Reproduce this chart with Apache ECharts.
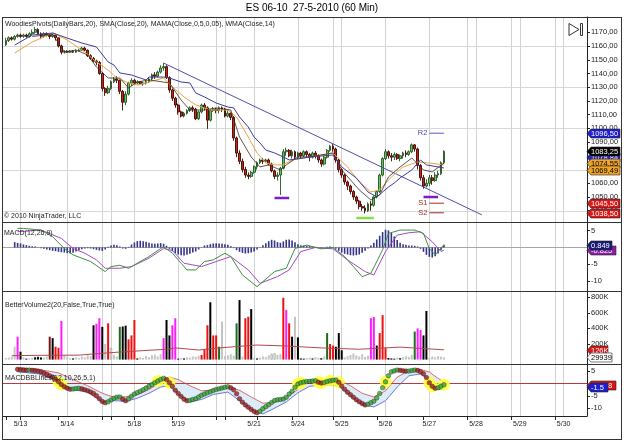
<!DOCTYPE html>
<html><head><meta charset="utf-8">
<script src="https://cdn.jsdelivr.net/npm/echarts@6.0.0/dist/echarts.min.js"></script>
<style>html,body{margin:0;padding:0;background:#fff}#c{width:625px;height:442px}</style>
</head><body><div id="c"></div>
<script>
const FONT = '"Liberation Sans", Arial, sans-serif';

// ---------- time axis (hourly bar slots) ----------
const SLOT_COUNT = 201;
const FIRST_BAR = 1;
const dateLabelSlots = [6, 22, 45, 60, 86, 101, 116, 131, 146, 162, 177, 192];
const dateLabels = ['5/13','5/14','5/18','5/19','5/21','5/24','5/25','5/26','5/27','5/28','5/29','5/30'];
const dateTickSlots = [1, 6, 19, 34, 37, 45, 58, 73, 76, 87, 99, 113, 128, 144, 159, 174, 189];
const extraGridSlots = [34, 37, 73, 76, 113, 159, 174, 189];

// ---------- price panel ----------
const firstOpen = 1161;
const closes = [1164,1166,1165,1167,1168,1167,1168,1167,1169,1170,
 1172,1169,1167,1169,1168,1167,1168,1166,1160,1155.5,
 1156,1155.5,1156,1155.5,1156.5,1157,1158.5,1157,1153,1151,
 1149,1148,1140,1129,1126,1129,1134,1136,1135,1127,
 1119,1125,1133,1135,1133,1134,1132.5,1133,1134,1136,
 1139,1138,1141,1144,1145,1137,1128,1122,1117,1112,
 1109,1111,1113,1115,1114,1107,1112,1117,1115,1106,
 1113,1114,1113,1115,1114,1109,1111,1108,1093,1082,
 1076,1070,1066,1065,1068,1072,1075,1077,1076,1077,
 1074,1069,1065,1066,1071,1083,1084,1080,1083,1079,
 1082,1080,1083,1081,1079,1082,1080,1077,1074,1079,
 1084,1087,1085,1077,1070,1066,1061,1058,1054,1050,
 1047,1043,1042,1040,1045,1044,1050,1054,1066,1078,
 1083,1080,1079,1081,1078,1080,1082,1081,1083,1088,
 1085,1073,1064,1058,1060,1064,1062,1066,1067,1075,
 1083.25];
const highs = [1166,1167,1167,1168,1169,1169,1169,1169,1170,1172,
 1174,1173,1170,1170,1170,1169,1169,1169,1166,1161,
 1157,1157,1157,1157,1157.5,1158,1159.5,1159.5,1157.5,1154,
 1152,1150,1149,1141,1130,1131,1135,1137.5,1138,1136,
 1128,1127,1134,1136.5,1136,1135,1134.5,1134,1135,1137,
 1140,1141,1142,1146,1147.6,1146,1138,1129,1123,1118,
 1113,1112,1114,1116,1116.5,1115,1113,1118,1118.5,1116,
 1114,1115.5,1115,1116,1116,1115,1113,1112,1109,1094,
 1084,1078,1072,1068,1069,1073,1076,1078,1078.5,1078,
 1078,1075,1070,1068,1072,1085,1086,1085,1084.5,1084,
 1083,1083,1084,1084,1082,1083,1083.5,1081,1078,1080,
 1085,1088,1088.5,1086,1078,1071,1067,1062,1059,1055,
 1051,1048,1045,1044,1046,1047,1051,1055,1067,1079,
 1085,1084,1082,1082.5,1082,1081,1083,1084,1084,1089,
 1088.5,1086,1074,1066,1063,1066,1066,1068,1069,1076,
 1084];
const lows = [1160,1163,1164,1164,1166,1166,1166,1166,1166,1168,
 1169,1168,1165,1166,1167,1165,1166,1164,1159,1154,
 1154.5,1155,1155,1155,1155,1156,1156.5,1156,1152,1150,
 1148,1146,1139,1127,1123.7,1125,1128,1133,1133,1125,
 1113,1117,1124,1131,1132,1132,1131.5,1131,1132,1133,
 1135,1136,1137,1140,1142,1136,1126,1120,1115,1110,
 1108,1108,1110,1112,1112,1106,1106,1111,1113,1099.6,
 1105,1112,1111,1111,1112,1108,1108,1106,1091,1079,
 1074,1068,1064,1063,1064,1067,1070,1074,1074,1075,
 1073,1068,1063,1062,1051.5,1070,1080,1079,1078,1077,
 1077.5,1078,1079,1079,1076,1078,1078,1075,1072,1073,
 1078,1083,1083,1075,1068,1064,1059,1055,1052,1048,
 1045,1041,1040,1038,1039,1040,1043,1049,1053,1065,
 1077,1078,1076,1077,1077,1076,1078,1079,1080,1082,
 1083,1070,1062,1056,1057,1058,1059,1061,1064,1066,
 1074];
const mamaLine = [[4,1160.7],[10,1168],[17,1169.5],[22,1165.8],[27,1162.2],[32,1159.3],[36,1148.4],[38,1146.2],[40,1140.4],[44,1138.9],[47,1136.7],[49,1135.3],[50,1137.4],[55,1137.4],[57,1136.7],[61,1133.8],[64,1133.1],[66,1125.8],[69,1122.9],[73,1118.5],[77,1115.6],[79,1114.9],[81,1108.3],[84,1101],[86,1093.7],[88,1089.4],[90,1084.2],[93,1082.1],[96,1079.2],[98,1077],[103,1078.4],[105,1079.2],[113,1080.6],[116,1071.9],[121,1063.9],[125,1053.7],[128,1050],[132,1057.3],[134,1060.2],[136,1063.9],[140,1069.7],[143,1077],[145,1073.4],[149,1071.9],[151,1071.2]];
const smaLine = [[4,1154.9],[10,1162.9],[17,1169.5],[22,1164.4],[28,1155.7],[32,1148.4],[36,1142.5],[39,1136.7],[43,1133.1],[46,1131.6],[49,1133.1],[50,1133.8],[55,1136.7],[58,1130.2],[62,1122.9],[66,1117.1],[71,1113.4],[77,1113.4],[80,1108.3],[84,1093.7],[87,1082.1],[90,1074.8],[93,1073.4],[96,1073.4],[99,1077],[105,1079.2],[113,1082.1],[118,1071.9],[122,1061],[126,1053.7],[129,1055.2],[133,1064.6],[137,1071.9],[142,1075.5],[146,1074.8],[151,1073.4]];
const wmaLine = [[10,1167],[17,1168.5],[21,1155.7],[25,1157.1],[29,1153.5],[32,1144.7],[36,1136.7],[40,1136.7],[43,1129.4],[46,1133.8],[50,1135.3],[57,1133.1],[61,1120.7],[64,1113.4],[69,1113.4],[73,1114.9],[78,1113.4],[81,1093.7],[85,1079.2],[88,1071.9],[91,1073.4],[95,1069.7],[97,1073.4],[101,1079.2],[105,1079.2],[113,1082.1],[116,1069.7],[122,1055.2],[126,1047.8],[129,1051.5],[132,1064.6],[136,1071.9],[140,1078.4],[144,1069.7],[147,1068.3],[151,1074.8]];
const trendLine = [[55,1147.6],[164,1037.0]];
const pivotNames = ['R2','S1','S2'];
const pivotValues = [1096.5, 1045.5, 1038.5];
const pivotSpan = [146, 151];
const swingLowBars = [[93,98,1049.3],[144,149,1050.0]];
const swingHighBars = [[121,127,1034.8]];
const priceTicks = [1040,1050,1060,1070,1080,1090,1100,1110,1120,1130,1140,1150,1160,1170];
const priceGridLevels = [1040,1070,1100,1130,1160];
const priceTagValues = [1078.84, 1074.55, 1069.49, 1083.25, 1096.5, 1045.5, 1038.5];

// ---------- MACD panel ----------
const HIST_FIRST = 4;
const macdHist = [1.6,1.4,1.2,0.9,0.7,0.5,0.4,0.3,0.1,-0.2,
 -0.4,-0.6,-0.8,-1.0,-1.1,-1.3,-1.4,-1.5,-1.7,-1.8,
 -1.6,-1.2,-0.8,-0.5,-0.3,-0.2,-0.3,-0.5,-0.7,-0.9,
 -1.0,-0.6,0.2,0.6,0.8,0.7,0.3,-0.3,-0.4,0.2,
 0.9,1.5,1.9,2.0,1.9,1.7,1.4,1.2,1.1,1.2,
 1.3,1.1,0.5,-0.4,-1.1,-1.7,-2.1,-2.3,-2.4,-2.2,
 -1.9,-1.5,-1.2,-0.6,0.1,0.6,0.7,1.0,1.2,1.3,
 1.2,1.1,1.0,0.8,0.4,-0.2,-0.8,-1.3,-1.6,-1.8,
 -1.7,-1.5,-1.2,-0.6,0.1,0.7,1.3,1.9,2.3,2.1,
 1.6,1.4,1.8,2.3,2.4,2.1,1.6,1.0,0.7,0.6,
 0.5,0.5,0.3,0.2,0.0,-0.2,-0.1,0.2,0.3,0.1,
 -0.4,-1.0,-1.5,-1.9,-2.1,-2.3,-2.4,-2.3,-2.1,-1.6,
 -1.0,-0.3,0.6,1.4,2.4,3.5,4.6,5.3,5.1,4.3,
 3.3,2.2,1.4,1.0,0.8,0.6,0.6,0.5,0.3,-0.4,
 -1.3,-2.2,-2.8,-3.0,-2.6,-1.8,-0.8,0.8];
const macdLine = [[5,5.7],[7,5.7],[13,5.2],[17,3.2],[21,-0.3],[24,-2.2],[30,-4.2],[35,-7.2],[37,-5.7],[40,-5.3],[43,-6.2],[46,-4.7],[50,-2.7],[54,-0.3],[55,0.2],[58,-1.7],[61,-4.7],[63,-6.7],[66,-6.7],[69,-4.2],[72,-3.7],[76,-1.7],[78,-2.7],[82,-8.2],[87,-11.7],[89,-10.2],[93,-7.2],[97,-6.2],[100,-0.3],[104,0.7],[109,-0.4],[113,0],[117,-2.7],[120,-5.7],[123,-8.7],[126,-7.7],[130,-0.7],[132,4.2],[136,5.2],[141,5.2],[144,4.2],[146,-0.3],[148,-2.2],[151,0.8]];
const signalLine = [[5,4.7],[13,5.2],[20,2.7],[24,-0.3],[28,-1.7],[32,-3.7],[35,-6.2],[40,-6.2],[44,-5.7],[50,-3.2],[55,-0.3],[58,-0.9],[62,-4.7],[68,-5.7],[73,-4.2],[78,-2.7],[84,-6.7],[88,-10.7],[94,-8.7],[98,-6.7],[102,-1.2],[107,0],[113,-0.4],[118,-3.7],[124,-7.2],[127,-8.2],[131,-1.2],[135,3.7],[139,4.4],[143,4.7],[147,1.7],[150,-1.2],[151,-0.8]];
const macdTicks = [5,-5,-10];
const macdTagValues = [-0.825, 0.849];

// ---------- Volume panel (thousands) ----------
const volumes = [20,25,35,165,294,101,30,12,18,22,
 30,35,28,25,40,294,275,165,152,495,
 60,35,20,15,28,22,40,30,55,45,
 440,460,530,420,200,465,150,60,40,420,
 425,435,260,310,508,15,30,20,45,30,
 55,65,40,70,275,508,310,440,530,12,
 20,15,30,25,40,35,50,60,130,440,
 735,310,310,165,490,45,55,70,50,465,
 763,40,530,550,648,20,15,25,40,30,
 55,75,80,60,70,793,635,465,294,550,
 285,15,12,20,25,15,30,22,18,40,
 340,200,180,165,340,120,30,45,60,80,
 55,40,70,35,50,530,545,180,340,570,
 150,20,15,12,25,18,30,40,35,60,
 360,400,380,310,623,25,40,30,45,35,
 30];
const volumeTypes = ("ggggmkgkgg" + "kkkggbkrrm" + "gggkgggggg" + "kmmkgrwggd" + "kkrrrkgggg" +
 "ggggmkkmmk" + "gkgggggrrr" + "krrdgggggd" + "kgrrkgkggg" + "gwwggrmrkg" + "kkkggkggkg" +
 "drrkkkgggg" + "gggggmmkrr" + "rkkkgkgggg" + "dmmkkggggg" + "g").split('');
const volumeAvg = [[3,50],[13,55],[26,57],[32,75],[40,97],[56,133],[59,150],[67,123],[74,150],[87,187],[96,176],[109,150],[122,133],[136,160],[151,126]];
const volumeTicks = [200,400,600,800];
const volumeTagValues = [126, 29.939];
const volumeTagTexts = ['126K', '29939'];

// ---------- MACDBBLines panel ----------
const BB_FIRST = 5;
const bbMacd = [5.6,5.5,5.4,5.3,5.3,5.2,5.1,4.9,4.6,4.1,
 3.6,3.0,2.5,1.6,0.6,-0.5,-1.4,-2.0,-2.4,-2.3,
 -2.1,-2.0,-2.2,-2.6,-3.0,-3.5,-4.1,-5.0,-6.2,-7.3,
 -7.8,-7.4,-6.7,-6.0,-5.6,-5.5,-6.4,-7.0,-6.3,-5.2,
 -4.3,-3.7,-3.2,-2.6,-1.9,-1.2,-0.5,0.2,0.9,1.5,
 2.0,1.5,0.2,-1.2,-2.8,-4.1,-5.3,-6.4,-7.0,-6.9,
 -6.5,-6.2,-5.5,-4.8,-4.3,-3.8,-3.4,-2.9,-2.5,-2.2,
 -1.9,-1.6,-1.4,-1.8,-2.6,-4.2,-6.2,-7.6,-8.7,-9.6,
 -10.5,-11.3,-11.8,-11.2,-10.2,-9.4,-8.6,-7.7,-6.9,-6.6,
 -6.5,-6.3,-5.6,-4.3,-3.2,-1.6,-0.3,0.2,0.5,0.7,
 0.8,0.9,1.0,0.4,0.1,0.3,0.7,1.0,1.2,1.3,
 0.4,-1.1,-2.4,-3.6,-4.6,-5.6,-6.6,-7.4,-8.1,-8.7,
 -8.4,-7.8,-7.2,-5.9,-4.1,-1.8,0.6,3.0,4.6,5.0,
 5.3,5.2,5.0,4.9,4.9,5.1,5.3,5.2,4.6,3.8,
 2.3,0.2,-1.2,-2.0,-1.8,-1.2,-0.6];
const bbUpper = [[5,6.0],[12,5.6],[19,4.2],[24,1.5],[29,-1.0],[34,-4.0],[38,-5.6],[42,-5.4],[46,-4.6],[50,-2.5],[54,0.6],[57,2.5],[60,1.5],[64,-1.0],[68,-3.0],[72,-2.7],[77,-1.4],[81,-2.8],[85,-5.5],[89,-8.0],[93,-7.6],[97,-5.5],[101,-2.5],[105,0.8],[110,1.0],[115,1.4],[119,-1.0],[123,-4.0],[127,-5.5],[131,-3.0],[135,2.5],[139,5.0],[143,5.6],[146,4.5],[149,2.0],[151,0.5]];
const bbLower = [[5,4.6],[12,3.8],[19,1.0],[24,-2.6],[29,-3.5],[34,-7.5],[38,-7.0],[42,-7.2],[46,-6.0],[50,-4.0],[54,-1.5],[57,-1.0],[60,-4.5],[64,-7.4],[68,-6.5],[72,-4.5],[77,-3.5],[81,-7.0],[85,-10.6],[89,-12.3],[93,-10.0],[97,-7.5],[101,-3.8],[105,-1.2],[110,-0.6],[115,-1.0],[119,-5.0],[123,-8.6],[127,-9.5],[131,-7.0],[135,-1.5],[139,3.0],[143,3.8],[146,1.5],[149,-2.5],[151,-2.5]];
const zeroCrossBars = [19,20,53,57,101,102,108,109,112,115,131,146,147,151];
const bbTicks = [5,-5,-10];
const bbTagValues = [-0.778, -1.5];

// ---------- styles ----------
const volColors = {g:'#c4c4c4', m:'#ff1aff', k:'#000000', r:'#ee1111', d:'#1d6b1d', b:'#7a1818', w:'#ffffff'};
const labelSet = new Set(dateLabelSlots);
const tickSet = new Set(dateTickSlots);
const gridSet = new Set(dateLabelSlots.concat(extraGridSlots));
const cats = Array.from({length: SLOT_COUNT}, (_, i) => String(i));

const candleRows = closes.map((c, i) => [FIRST_BAR + i, i ? closes[i-1] : firstOpen, c, lows[i], highs[i]]);
const volData = volumes.map((v, i) => ({
  value: [FIRST_BAR + i, v],
  itemStyle: {color: volColors[volumeTypes[i]], borderColor: volumeTypes[i] === 'w' ? '#888' : volColors[volumeTypes[i]], borderWidth: volumeTypes[i] === 'w' ? 0.6 : 0}
}));
const histData = macdHist.map((v, i) => [HIST_FIRST + i, v]);
const dotData = bbMacd.map((v, i) => ({
  value: [BB_FIRST + i, v],
  itemStyle: {color: (i > 0 && v >= bbMacd[i-1]) ? '#35a835' : '#a51c1c'}
}));
const crossData = zeroCrossBars.map(s => [s, bbMacd[s - BB_FIRST]]);

const gridCommon = {left: 3, right: 38, containLabel: false, outerBoundsMode: 'none'};
const axisFont = {fontFamily: FONT, fontSize: 7.5, color: '#222'};

function yAx(gi, min, max, ticks, fmt) {
  return {
    type: 'value', gridIndex: gi, position: 'right', min: min, max: max,
    axisLine: {show: true, lineStyle: {color: '#222', width: 1}},
    axisTick: {show: true, length: 3, customValues: ticks, lineStyle: {color: '#222'}},
    axisLabel: Object.assign({customValues: ticks, formatter: fmt, margin: 4}, axisFont),
    splitLine: {show: false}
  };
}

const option = {
  animation: false,
  backgroundColor: '#ffffff',
  textStyle: {fontFamily: FONT},
  grid: [
    Object.assign({top: 17, height: 205}, gridCommon),
    Object.assign({top: 222, height: 69}, gridCommon),
    Object.assign({top: 292, height: 72}, gridCommon),
    Object.assign({top: 364, height: 52}, gridCommon)
  ],
  xAxis: [0,1,2,3].map(i => ({
    type: 'category', gridIndex: i, data: cats, boundaryGap: false,
    axisLine: {show: i === 3, onZero: false, lineStyle: {color: '#222', width: 1}},
    axisTick: {show: i === 3, interval: (idx) => tickSet.has(idx), length: 4, lineStyle: {color: '#222'}},
    axisLabel: Object.assign({show: i === 3, interval: (idx) => labelSet.has(idx),
      formatter: (v) => dateLabels[dateLabelSlots.indexOf(Number(v))] || '', margin: 5}, axisFont, {fontSize: 7}),
    splitLine: {show: true, interval: (idx) => gridSet.has(idx), lineStyle: {color: '#d2d2d2', width: 1}}
  })),
  yAxis: [
    yAx(0, 1031.8, 1181.15, priceTicks, v => v.toFixed(2).replace('.', ',')),
    yAx(1, -12.99, 7.61, macdTicks, v => String(v)),
    yAx(2, -56.4, 866.6, volumeTicks, v => v + 'K'),
    yAx(3, -13.13, 7.75, bbTicks, v => String(v))
  ],
  series: [
    {type: 'candlestick', xAxisIndex: 0, yAxisIndex: 0, data: candleRows, encode: {x: 0, y: [1,2,3,4]},
     barWidth: 2.3, z: 3,
     itemStyle: {color: '#62c862', color0: '#d02410', borderColor: '#245224', borderColor0: '#3a0800', borderWidth: 0.9}},
    {type: 'line', xAxisIndex: 0, yAxisIndex: 0, data: trendLine, symbol: 'none', z: 4,
     lineStyle: {color: '#4f4fa6', width: 1}},
    {type: 'line', xAxisIndex: 0, yAxisIndex: 0, data: smaLine, symbol: 'none', z: 4,
     lineStyle: {color: '#e9a443', width: 1}},
    {type: 'line', xAxisIndex: 0, yAxisIndex: 0, data: wmaLine, symbol: 'none', z: 4,
     lineStyle: {color: '#3a2a20', width: 0.8}},
    {type: 'line', xAxisIndex: 0, yAxisIndex: 0, data: mamaLine, symbol: 'none', z: 4,
     lineStyle: {color: '#3c3c9c', width: 1}},
    ...pivotValues.map((v, k) => ({type: 'line', xAxisIndex: 0, yAxisIndex: 0, symbol: 'none', z: 4,
     data: [[pivotSpan[0], v], [pivotSpan[1], v]],
     lineStyle: {color: pivotNames[k][0] === 'R' ? '#5a5ad0' : '#a02a2a', width: 1}})),
    ...swingLowBars.map(b => ({type: 'line', xAxisIndex: 0, yAxisIndex: 0, symbol: 'none', z: 4,
     data: [[b[0], b[2]], [b[1], b[2]]], lineStyle: {color: '#7a1fc8', width: 2.5}})),
    ...swingHighBars.map(b => ({type: 'line', xAxisIndex: 0, yAxisIndex: 0, symbol: 'none', z: 4,
     data: [[b[0], b[2]], [b[1], b[2]]], lineStyle: {color: '#88e040', width: 2.5}})),

    {type: 'bar', xAxisIndex: 1, yAxisIndex: 1, data: histData, barWidth: 1.6, z: 3,
     itemStyle: {color: '#34348a'}},
    {type: 'line', xAxisIndex: 1, yAxisIndex: 1, data: signalLine, symbol: 'none', z: 4,
     lineStyle: {color: '#a848c8', width: 1}},
    {type: 'line', xAxisIndex: 1, yAxisIndex: 1, data: macdLine, symbol: 'none', z: 4,
     lineStyle: {color: '#3f8f3f', width: 1}},

    {type: 'bar', xAxisIndex: 2, yAxisIndex: 2, data: volData, barWidth: 2, z: 3},
    {type: 'line', xAxisIndex: 2, yAxisIndex: 2, data: volumeAvg, symbol: 'none', z: 4,
     lineStyle: {color: '#b04a4a', width: 1}},

    {type: 'custom', xAxisIndex: 3, yAxisIndex: 3, data: [[0, 0]], encode: {x: 0, y: 1}, silent: true, z: 1,
     renderItem: (params, api) => {
       const pts = bbUpper.map(p => api.coord(p)).concat(bbLower.slice().reverse().map(p => api.coord(p)));
       return {type: 'polygon', shape: {points: pts}, style: {fill: '#dcecf8'}};
     }},
    {type: 'line', xAxisIndex: 3, yAxisIndex: 3, data: bbUpper, symbol: 'none', z: 2,
     lineStyle: {color: '#d04a4a', width: 0.8}},
    {type: 'line', xAxisIndex: 3, yAxisIndex: 3, data: bbLower, symbol: 'none', z: 2,
     lineStyle: {color: '#4a58c8', width: 0.8}},
    {type: 'scatter', xAxisIndex: 3, yAxisIndex: 3, data: crossData, symbolSize: 12, z: 3,
     itemStyle: {color: '#ffff3a', opacity: 0.9}},
    {type: 'scatter', xAxisIndex: 3, yAxisIndex: 3, data: dotData, symbolSize: 4.6, z: 5,
     itemStyle: {borderColor: '#222', borderWidth: 0.5}}
  ]
};

const chart = echarts.init(document.getElementById('c'), null, {renderer: 'canvas'});
chart.setOption(option);

// ---------- decorations positioned through the chart's own scales ----------
const yPx = (gi, v) => chart.convertToPixel({gridIndex: gi}, [0, v])[1];
const xPx = (s) => chart.convertToPixel({gridIndex: 0}, [s, 1100])[0];
const plotL = xPx(0), plotR = xPx(SLOT_COUNT - 1);
const g = [];
const hline = (y, x1, x2, color, w, z) => g.push({type: 'line', z: z, silent: true,
  shape: {x1: x1, y1: y, x2: x2, y2: y}, style: {stroke: color, lineWidth: w}});
const text = (x, y, s, size, color, align, z) => g.push({type: 'text', x: x, y: y, z: z || 60, silent: true,
  style: {text: s, fill: color, font: size + 'px ' + FONT, align: align || 'left', verticalAlign: 'middle'}});

priceGridLevels.forEach(v => hline(Math.round(yPx(0, v)) + 0.5, plotL, plotR, '#d8d8d8', 1, 1));
hline(Math.round(yPx(1, 0)) + 0.5, plotL, plotR, '#a6a6a6', 1, 1);
hline(Math.round(yPx(3, 0)) + 0.5, plotL, plotR, '#b83a3a', 1, 1);

// frame
[17.5, 222.5, 291.5, 364.5, 439.5].forEach(y => hline(y, 2, 622, '#333', 1, 50));
g.push({type: 'line', z: 50, silent: true, shape: {x1: 2.5, y1: 17, x2: 2.5, y2: 440}, style: {stroke: '#333', lineWidth: 1}});
g.push({type: 'line', z: 50, silent: true, shape: {x1: 621.5, y1: 17, x2: 621.5, y2: 440}, style: {stroke: '#333', lineWidth: 1}});

// texts
text(312, 8, 'ES 06-10  27-5-2010 (60 Min)', 10, '#000', 'center');
text(5, 24, 'WoodiesPivots(DailyBars,20), SMA(Close,20), MAMA(Close,0,5,0,05), WMA(Close,14)', 7, '#222');
text(4, 216, '\u00a9 2010 NinjaTrader, LLC', 7, '#222');
text(4, 233, 'MACD(12,26,9)', 7, '#222');
text(5, 305, 'BetterVolume2(20,False,True,True)', 7, '#222');
text(5, 378, 'MACDBBLines(12,10,26,5,1)', 7, '#222');
pivotValues.forEach((v, k) => text(xPx(pivotSpan[0]) - 2, yPx(0, v), pivotNames[k], 7.5,
  pivotNames[k][0] === 'R' ? '#4545b5' : '#b02828', 'right'));

// scroll icon
g.push({type: 'polygon', z: 60, silent: true, shape: {points: [[569, 23.5], [569, 35.5], [579, 29.5]]},
  style: {fill: 'none', stroke: '#333', lineWidth: 1}});
g.push({type: 'rect', z: 60, silent: true, shape: {x: 580.5, y: 23.5, width: 2, height: 12},
  style: {fill: 'none', stroke: '#333', lineWidth: 1}});

// value tags
let tz = 100;
function tag(gi, v, s, bg, fg, border) {
  const y = Math.round(yPx(gi, v)) + 0.5;
  const x0 = plotR;
  const w = 5 + 4 * s.length;
  g.push({type: 'polygon', z: tz++, silent: true,
    shape: {points: [[x0, y], [x0 + 4, y - 4.5], [x0 + w, y - 4.5], [x0 + w, y + 4.5], [x0 + 4, y + 4.5]]},
    style: {fill: bg, stroke: border || '#222', lineWidth: 0.6}});
  g.push({type: 'text', x: x0 + 4, y: y, z: tz++, silent: true,
    style: {text: s, fill: fg, font: '7.5px ' + FONT, align: 'left', verticalAlign: 'middle'}});
}
const fmtPrice = v => v.toFixed(2).replace('.', ',');
const priceTagStyle = [['#2424c8','#fff'], ['#f0a428','#000'], ['#f0a428','#000'], ['#000','#fff'], ['#1e1ecc','#fff'], ['#d81818','#fff'], ['#d81818','#fff']];
priceTagValues.forEach((v, k) => tag(0, v, fmtPrice(v), priceTagStyle[k][0], priceTagStyle[k][1]));
const macdTagStyle = [['#8a20a8','#fff'], ['#1c1c78','#fff']];
macdTagValues.forEach((v, k) => tag(1, v, v.toFixed(3), macdTagStyle[k][0], macdTagStyle[k][1]));
const volTagStyle = [['#d81818','#fff'], ['#ffffff','#000']];
volumeTagValues.forEach((v, k) => tag(2, v, volumeTagTexts[k], volTagStyle[k][0], volTagStyle[k][1]));
const bbTagStyle = [['#d81818','#fff'], ['#1e1ecc','#fff']];
bbTagValues.forEach((v, k) => tag(3, v, String(v), bbTagStyle[k][0], bbTagStyle[k][1]));

chart.setOption({graphic: {elements: g}});
</script></body></html>
